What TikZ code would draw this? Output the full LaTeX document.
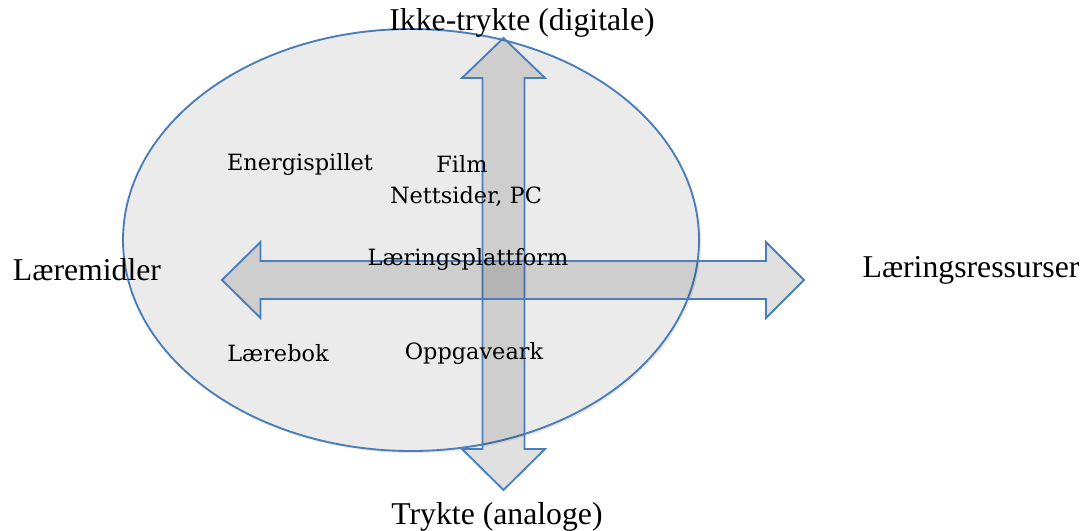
\documentclass[tikz,border=0pt]{standalone}
\usepackage{fontspec}
\setmainfont{Liberation Serif}
\newfontfamily\itemfont{DejaVu Serif}
\usetikzlibrary{shadows}
\definecolor{edgeblue}{RGB}{74,126,187}
\definecolor{fieldgray}{RGB}{235,235,235}
\tikzset{
  field/.style    = {draw=edgeblue, line width=1.4pt, fill=fieldgray,
                     drop shadow={opacity=0.18, shadow xshift=1.5pt, shadow yshift=-1.5pt}},
  bigarrow/.style = {draw=edgeblue, line width=1.4pt, fill=black, fill opacity=0.12, line join=miter},
  axis/.style     = {font=\fontsize{23.8}{28}\selectfont, inner sep=0pt},
  item/.style     = {font=\itemfont\fontsize{16.8}{20}\selectfont, inner sep=0pt}
}

\begin{document}
\begin{tikzpicture}[x=0.75pt, y=-0.75pt]
\useasboundingbox (0,0) rectangle (1084,531);
\fill[white] (0,0) rectangle (1084,531);
% the field of learning material
\coordinate (mid) at (411,240);
\draw[field] (mid) ellipse [x radius=216pt, y radius=158.25pt];
% vertical axis: printed / not printed
\draw[bigarrow] (503.5,38) -- (545,78) -- (524.5,78) -- (524.5,449) -- (545,449)
  -- (503.5,490) -- (462,449) -- (482.5,449) -- (482.5,78) -- (462,78) -- cycle;
% horizontal axis: laeremidler / laeringsressurser
\draw[bigarrow] (222,280) -- (260.5,242) -- (260.5,261) -- (766,261) -- (766,242)
  -- (804,280) -- (766,318) -- (766,299) -- (260.5,299) -- (260.5,318) -- cycle;
% axis ends
\node[axis] (digital) at (522,23) {Ikke-trykte (digitale)};
\node[axis] (analog) at (497,517) {Trykte (analoge)};
\node[axis] (midler) at (87,270) {Læremidler};
\node[axis] (ressurser) at (971,270) {Læringsressurser};
% examples inside the field
\node[item] (spill) at (300,164) {Energispillet};
\node[item] (film) at (462,164) {Film};
\node[item] (nett) at (466,197) {Nettsider, PC};
\node[item] (plattform) at (468,259) {Læringsplattform};
\node[item] (bok) at (278,353) {Lærebok};
\node[item] (ark) at (474,353) {Oppgaveark};
\end{tikzpicture}
\end{document}
